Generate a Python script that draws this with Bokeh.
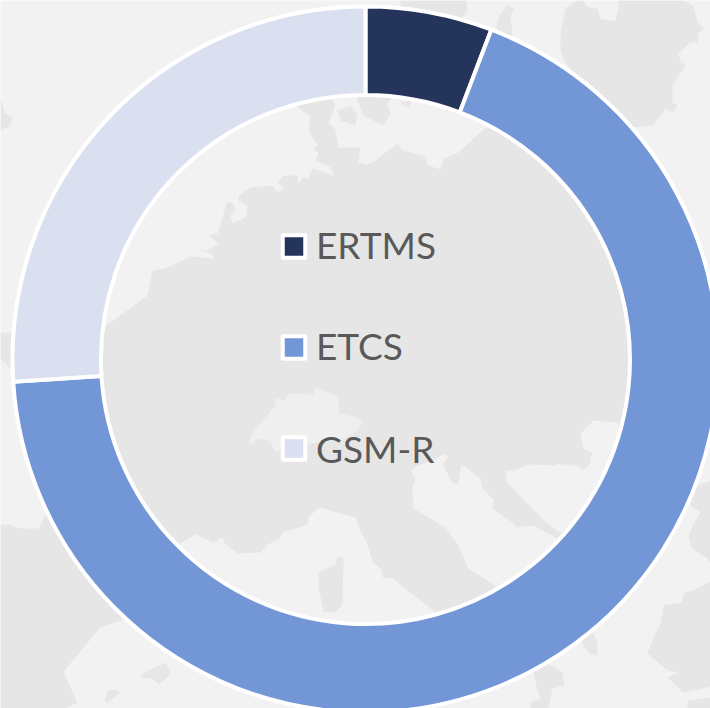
from math import pi
from bokeh.embed import file_html
from bokeh.resources import INLINE
from bokeh.plotting import figure
from bokeh.models import Range1d
from bokeh.core.properties import value

# ---- chart data ----
categories = ["ERTMS", "ETCS", "GSM-R"]
shares = [5.8, 68.2, 26.0]
colors = ["#24345a", "#7396d6", "#dae0f0"]

# ---- decorative map behind the chart (outlines, reference pixels) ----
MAINLAND = [(95,330),(113,320),(147,295),(152,270),(165,268),(190,256),(212,258),(214,260),(212,254),(195,247),
    (207,250),(218,243),(208,235),(217,233),(222,217),(226,202),(232,202),(235,210),(230,215),(232,223),(245,217),
    (247,205),(238,200),(238,195),(250,187),(272,185),(277,192),(284,188),(277,182),(283,175),(297,175),(298,183),
    (303,177),(308,178),(312,168),(320,170),(334,176),(330,167),(315,160),(318,153),(313,148),(317,145),(309,132),
    (309,115),(297,107),(290,85),(330,70),(330,97),(335,105),(328,122),(335,129),(338,147),(360,147),(358,162),
    (367,164),(375,160),(385,152),(397,143),(402,150),(423,155),(428,165),(440,169),(443,158),(458,152),(485,127),
    (570,150),(660,300),(680,450),(600,560),(500,620),(450,640),(435,612),(392,578),(382,577),(381,569),(372,561),
    (367,544),(360,530),(355,517),(333,511),(320,507),(308,516),(307,524),(283,532),(278,539),(267,544),(260,552),
    (237,553),(225,544),(222,537),(213,542),(195,534),(178,544),(150,560),(70,450),(60,350)]
ADRIATIC = [(410,470),(417,465),(433,460),(443,453),(448,457),(442,463),(452,483),(458,483),(461,464),(480,478),
    (482,488),(493,499),(492,508),(512,522),(515,527),(533,525),(557,538),(580,550),(510,613),(495,585),(468,568),
    (458,545),(445,527),(413,508),(412,487),(415,478)]
PANNONIA = [(505,470),(515,470),(527,464),(555,465),(557,463),(578,466),(582,470),(590,463),(590,457),(593,453),
    (583,448),(580,433),(593,420),(617,422),(618,427),(633,467),(587,540),(560,532),(547,523),(517,493),(507,482)]
SWISS = [(248,443),(252,432),(275,405),(275,397),(285,401),(288,393),(313,394),(314,387),(328,392),(337,397),
    (339,413),(358,417),(362,423),(355,432),(340,440),(285,445),(275,452),(270,440),(257,438),(253,444)]
FUNEN = [(337,110),(350,105),(357,115),(355,125),(340,120)]
ZEALAND = [(357,95),(357,99),(363,115),(383,125),(390,114),(387,102),(392,98)]
ISLET = [(400,102),(410,100),(410,107),(402,105)]
CORSICA = [(318,572),(335,564),(337,557),(343,557),(342,604),(335,612),(323,611),(320,596),(318,587)]
TOP_LEFT = [(0,97),(3,107),(4,112),(12,118),(9,126),(0,130)]
MID_LEFT = [(0,332),(14,332),(14,372),(0,358)]
LOW_LEFT = [(0,524),(10,524),(20,528),(38,528),(47,511),(70,530),(130,600),(123,619),(100,627),(63,671),(77,702),(65,708),(0,708)]
ISLE_A = [(140,674),(165,662),(170,673),(159,684),(152,678),(143,678)]
ISLE_B = [(104,701),(107,691),(113,689),(120,692),(107,702)]
TOP_STRIP = [(400,0),(466,0),(467,10),(460,20),(400,12)]
GOTLAND = [(507,4),(513,8),(510,17),(512,33),(505,45),(496,27),(498,17)]
NORTH_EAST = [(565,8),(577,0),(582,0),(588,7),(597,8),(600,18),(615,21),(618,7),(618,0),(683,0),(693,5),(697,22),
    (703,28),(698,33),(697,42),(690,42),(678,53),(680,62),(685,65),(672,85),(672,102),(677,105),(672,112),(665,108),
    (653,125),(633,127),(625,125),(590,90),(565,63),(560,50),(560,33)]
EAST = [(680,490),(688,503),(700,512),(692,525),(688,537),(692,548),(707,558),(712,567),(712,480)]
SOUTH_EAST = [(663,605),(682,602),(683,593),(697,588),(712,580),(712,686),(707,687),(683,692),(667,677),(678,672),
    (667,670),(647,653),(653,637),(660,623)]
SOUTH_EAST_2 = [(687,700),(710,697),(712,708),(687,708)]
ISLE_C = [(580,630),(593,633),(597,643),(597,656),(588,652),(582,643)]
BOTTOM = [(540,660),(547,663),(562,672),(564,685),(552,688),(548,708),(530,708),(530,702),(540,698),(537,690),(533,673)]

land = [MAINLAND, FUNEN, ZEALAND, ISLET, TOP_LEFT, MID_LEFT, LOW_LEFT, ISLE_A, ISLE_B, TOP_STRIP, GOTLAND,
        NORTH_EAST, EAST, SOUTH_EAST, SOUTH_EAST_2, ISLE_C, BOTTOM]
sea = [ADRIATIC, PANNONIA]

SEA_COLOR = "#f2f2f2"
LAND_COLOR = "#e6e6e6"

p = figure(width=710, height=708, x_range=Range1d(0, 710), y_range=Range1d(708, 0),
           output_backend="svg", toolbar_location=None, min_border=0,
           background_fill_color=SEA_COLOR, border_fill_color=SEA_COLOR, outline_line_color=None)
p.axis.visible = False
p.grid.visible = False

def draw(polys, color):
    p.patches([[a for a, _ in q] for q in polys], [[b for _, b in q] for q in polys],
              fill_color=color, line_color=None)

draw(land, LAND_COLOR)
draw(sea, SEA_COLOR)
draw([CORSICA], LAND_COLOR)
draw([SWISS], "#efefef")

# ---- doughnut, clockwise from twelve o'clock ----
CX, CY, R_IN, R_OUT = 365, 359, 264.5, 353
total = sum(shares)
running = 0.0
for name, share, color in zip(categories, shares, colors):
    start = pi / 2 - 2 * pi * running / total
    running += share
    end = pi / 2 - 2 * pi * running / total
    p.annular_wedge(x=CX, y=CY, inner_radius=R_IN, outer_radius=R_OUT, start_angle=end, end_angle=start,
                    fill_color=color, line_color="white", line_width=4)

# ---- legend ----
legend_y = [246, 347, 448]
p.rect(x=[293.5] * 3, y=legend_y, width=22.5, height=22.5, fill_color=colors, line_color="white",
       line_width=4, line_join="round")
p.text(x=[315.5] * 3, y=[243.5, 345, 447.5], text=categories, text_font=value("Lato"), text_font_size="37px",
       text_color="#595959", text_baseline="middle", text_align="left")

open("out.html", "w").write(file_html(p, INLINE))
